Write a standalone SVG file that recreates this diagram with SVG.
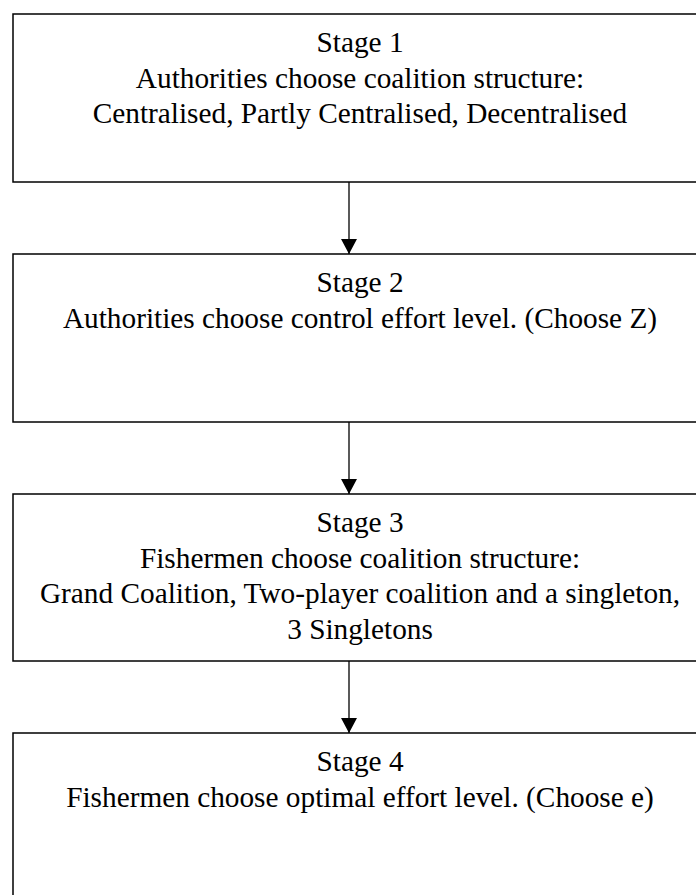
<svg xmlns="http://www.w3.org/2000/svg" width="696" height="895" viewBox="0 0 696 895">
<style>
.box{fill:#fff;stroke:#000;stroke-width:1.5}
.t{font-family:"Liberation Serif","Times New Roman",serif;font-size:29.3px;fill:#000;text-anchor:middle}
.c{stroke:#000;stroke-width:1.3;fill:none}
</style>
<defs>
<marker id="ah" markerWidth="15" markerHeight="16" refX="15" refY="8" orient="auto" markerUnits="userSpaceOnUse">
<path d="M0,0 L15,8 L0,16 Z" fill="#000"/>
</marker>
</defs>
<rect width="696" height="895" fill="#fff"/>
<g id="stage1">
<rect class="box" x="13" y="14" width="700" height="168"/>
<text class="t" x="360" y="52.3">Stage 1</text>
<text class="t" x="360" y="87.8">Authorities choose coalition structure:</text>
<text class="t" x="360" y="123.3">Centralised, Partly Centralised, Decentralised</text>
</g>
<g id="stage2">
<rect class="box" x="13" y="254" width="700" height="168"/>
<text class="t" x="360" y="292.3">Stage 2</text>
<text class="t" x="360" y="327.8">Authorities choose control effort level. (Choose Z)</text>
</g>
<g id="stage3">
<rect class="box" x="13" y="494" width="700" height="167"/>
<text class="t" x="360" y="532.3">Stage 3</text>
<text class="t" x="360" y="567.8">Fishermen choose coalition structure:</text>
<text class="t" x="360" y="603.3">Grand Coalition, Two-player coalition and a singleton,</text>
<text class="t" x="360" y="638.8">3 Singletons</text>
</g>
<g id="stage4">
<rect class="box" x="13" y="733" width="700" height="200"/>
<text class="t" x="360" y="771.3">Stage 4</text>
<text class="t" x="360" y="806.8">Fishermen choose optimal effort level. (Choose e)</text>
</g>
<g id="connectors">
<line class="c" x1="349" y1="182" x2="349" y2="254" marker-end="url(#ah)"/>
<line class="c" x1="349" y1="422" x2="349" y2="494" marker-end="url(#ah)"/>
<line class="c" x1="349" y1="661" x2="349" y2="733" marker-end="url(#ah)"/>
</g>
</svg>
